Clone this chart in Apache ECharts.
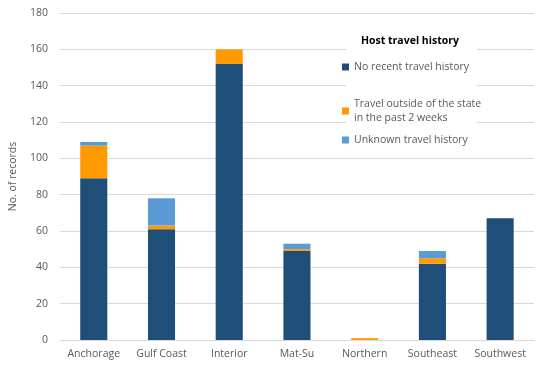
<!DOCTYPE html>
<html>
<head>
<meta charset="utf-8">
<script src="https://cdn.jsdelivr.net/npm/echarts@6/dist/echarts.min.js"></script>
<style>
  html, body { margin: 0; padding: 0; background: #fff; }
  #chart { width: 550px; height: 377px; }
</style>
</head>
<body>
<div id="chart"></div>
<script>
var regions = ['Anchorage', 'Gulf Coast', 'Interior', 'Mat-Su', 'Northern', 'Southeast', 'Southwest'];
var noRecentTravel = [89, 61, 152, 49, 0, 42, 67];
var travelOutside = [18, 2, 8, 1, 1, 3, 0];
var unknownTravel = [2, 15, 0, 3, 0, 4, 0];
var yTicks = [0, 20, 40, 60, 80, 100, 120, 140, 160, 180];

var names = ['No recent travel history', 'Travel outside of the state\nin the past 2 weeks', 'Unknown travel history'];
var colors = ['#1F4E79', '#FF9A00', '#5B9BD5'];
var font = '"Open Sans", "Liberation Sans", sans-serif';
var textColor = '#595959';

function legendFor(name, top) {
  return {
    data: [name],
    left: 342,
    top: top,
    orient: 'vertical',
    icon: 'rect',
    itemWidth: 7,
    itemHeight: 7,
    itemGap: 4,
    padding: 0,
    z: 6,
    selectedMode: false,
    textStyle: { color: textColor, fontSize: 10.5, fontFamily: font, lineHeight: 14 }
  };
}

var chart = echarts.init(document.getElementById('chart'));
chart.setOption({
  animation: false,
  color: colors,
  grid: { left: 57, right: 16, top: 13, bottom: 37 },
  title: {
    text: 'Host travel history',
    left: 356,
    top: 31,
    textStyle: { fontSize: 10.5, fontWeight: 'bold', color: '#000', fontFamily: font }
  },
  graphic: [{
    type: 'rect',
    z: 5,
    shape: { x: 346, y: 25, width: 131, height: 130 },
    style: { fill: '#fff' }
  }],
  legend: [
    legendFor(names[0], 60),
    legendFor(names[1], 97),
    legendFor(names[2], 133)
  ],
  xAxis: {
    type: 'category',
    data: regions,
    axisLine: { lineStyle: { color: '#d9d9d9' } },
    axisTick: { show: false },
    axisLabel: { color: textColor, fontSize: 10.5, fontFamily: font, margin: 9, interval: 0 }
  },
  yAxis: {
    type: 'value',
    min: yTicks[0],
    max: yTicks[yTicks.length - 1],
    interval: yTicks[1] - yTicks[0],
    name: 'No. of records',
    nameLocation: 'middle',
    nameGap: 35,
    nameTextStyle: { color: textColor, fontSize: 10.5, fontFamily: font },
    axisLine: { show: false },
    axisTick: { show: false },
    axisLabel: { color: textColor, fontSize: 10.5, fontFamily: font, margin: 12 },
    splitLine: { lineStyle: { color: '#d9d9d9' } }
  },
  series: [
    { name: names[0], type: 'bar', stack: 'total', barWidth: '40%', data: noRecentTravel },
    { name: names[1], type: 'bar', stack: 'total', barWidth: '40%', data: travelOutside },
    { name: names[2], type: 'bar', stack: 'total', barWidth: '40%', data: unknownTravel }
  ]
});
</script>
</body>
</html>
